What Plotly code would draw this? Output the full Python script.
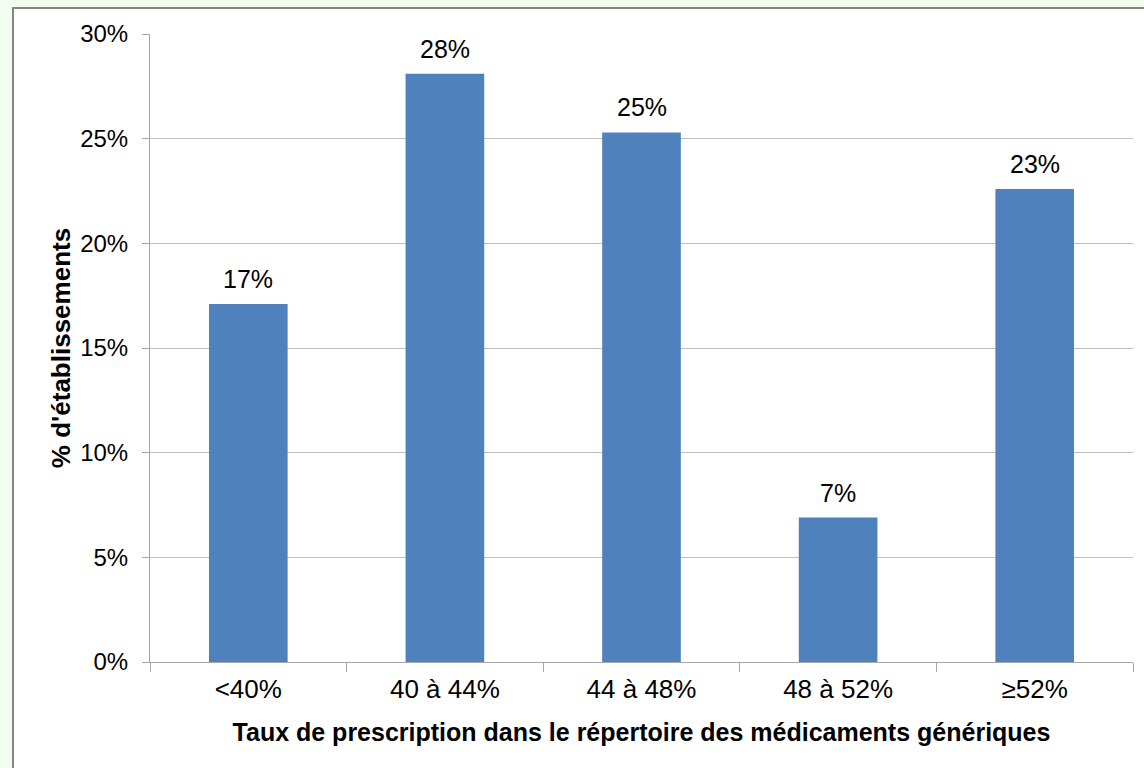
import plotly.graph_objects as go

categories = ["<40%", "40 à 44%", "44 à 48%", "48 à 52%", "≥52%"]
values = [17.1, 28.1, 25.3, 6.9, 22.6]
labels = ["17%", "28%", "25%", "7%", "23%"]
y_ticks = [0, 5, 10, 15, 20, 25, 30]
y_ticklabels = ["0%", "5%", "10%", "15%", "20%", "25%", "30%"]

W, H = 1144, 768
L, R, T, B = 150, 11, 34, 106
pw, ph = W - L - R, H - T - B
FONT = "Liberation Sans, Arial, sans-serif"

fig = go.Figure()
fig.add_trace(go.Bar(
    x=categories, y=values,
    marker=dict(color="#4F81BD", line=dict(width=0)),
    width=0.4, hoverinfo="x+y",
))

for c, v, t in zip(categories, values, labels):
    fig.add_annotation(x=c, y=v, text=t, showarrow=False, xref="x", yref="y",
                       yanchor="middle", yshift=25,
                       font=dict(size=25, color="#000000", family=FONT))

fig.add_shape(type="rect", xref="paper", yref="paper",
              x0=(13 - L) / pw, x1=1.2,
              y0=-0.5, y1=(H - 8 - B) / ph,
              line=dict(color="#858585", width=2), fillcolor="#FFFFFF", layer="below")

fig.update_layout(
    width=W, height=H,
    margin=dict(l=L, r=R, t=T, b=B, pad=0),
    paper_bgcolor="#F2FCEF",
    plot_bgcolor="rgba(0,0,0,0)",
    font=dict(family=FONT, size=24, color="#000000"),
    showlegend=False,
    xaxis=dict(
        title=dict(text="<b>Taux de prescription dans le répertoire des médicaments génériques</b>",
                   font=dict(size=25), standoff=20),
        showline=True, linecolor="#A6A6A6", linewidth=1,
        ticks="outside", tickson="boundaries", ticklen=9, tickcolor="#A6A6A6",
        showgrid=False, tickfont=dict(size=26), ticklabelstandoff=4,
    ),
    yaxis=dict(
        title=dict(text="<b>% d'établissements</b>", font=dict(size=26), standoff=2),
        range=[0, 30], tickvals=y_ticks, ticktext=y_ticklabels,
        showline=True, linecolor="#A6A6A6", linewidth=1,
        ticks="outside", ticklen=7, tickcolor="#A6A6A6",
        showgrid=True, gridcolor="#BFBFBF", gridwidth=1,
        zeroline=False, tickfont=dict(size=24), ticklabelstandoff=9,
    ),
)

fig.write_html("out.html")
